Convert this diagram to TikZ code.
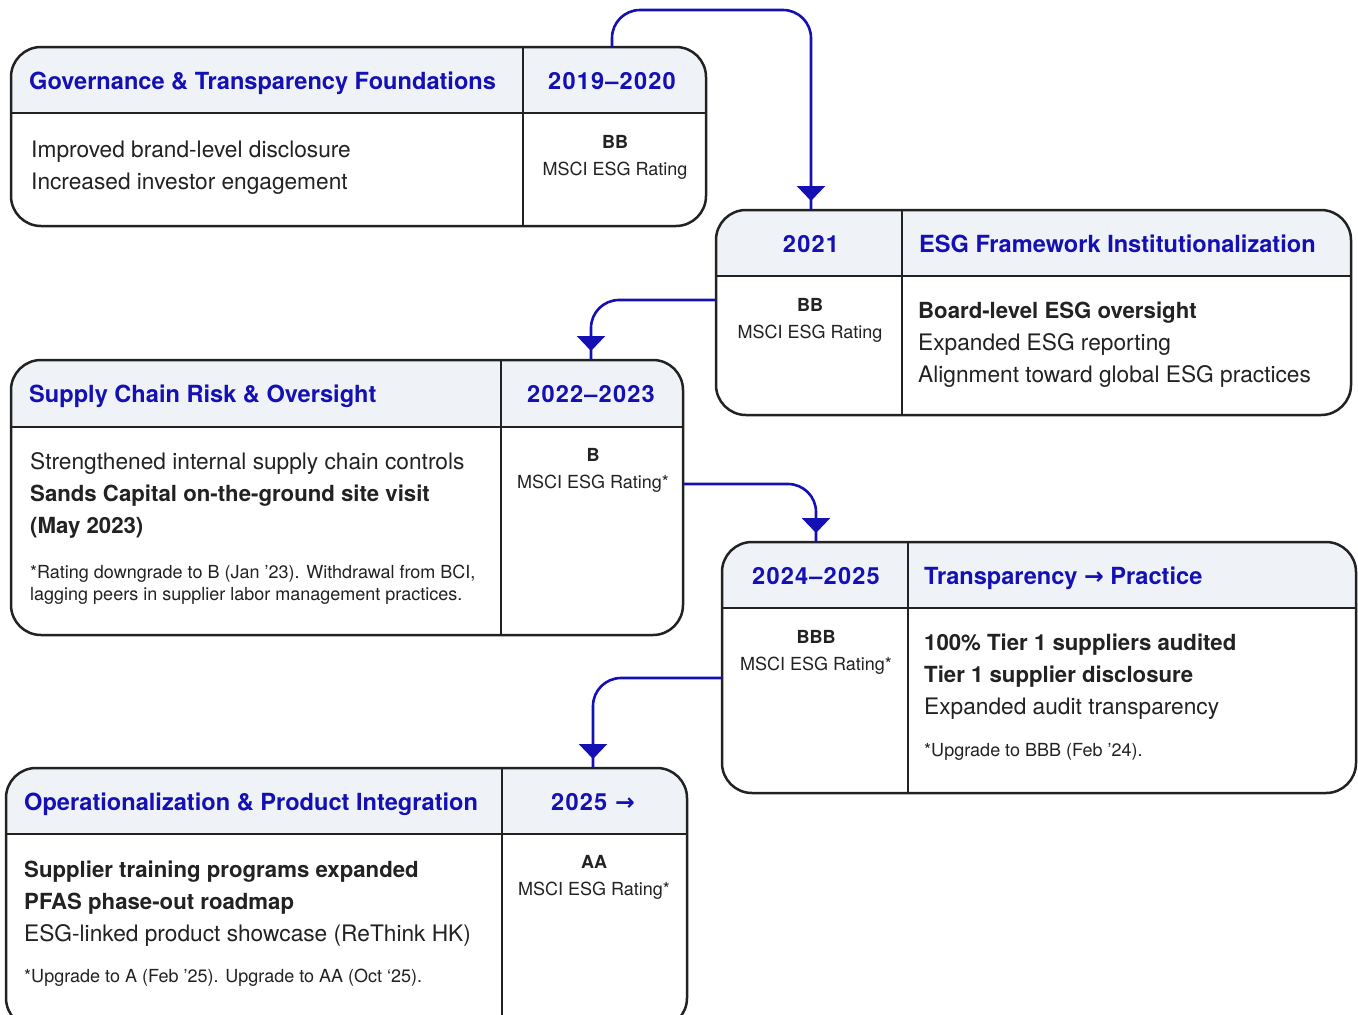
\documentclass[tikz,border=0pt]{standalone}
\usepackage{fontspec}
\setmainfont{TeX Gyre Heros}
\newfontfamily\arrowfont{DejaVu Sans}
\usetikzlibrary{arrows.meta,decorations.markings}

\definecolor{ink}{HTML}{222222}
\definecolor{accent}{HTML}{1410B4}
\definecolor{hdr}{HTML}{EFF3F7}

\tikzset{
  cardbase/.style={fill=white, rounded corners=30pt, inner sep=0pt, outer sep=0pt},
  frame/.style={draw=ink, line width=2.5pt},
  title/.style={anchor=base west, inner sep=0pt, text=accent, font=\fontsize{23.6}{28}\selectfont\bfseries},
  yearlbl/.style={anchor=base, inner sep=0pt, text=accent, font=\fontsize{23.6}{28}\selectfont\bfseries\addfontfeatures{LetterSpace=5}},
  body/.style={anchor=base west, inner sep=0pt, text=ink, font=\fontsize{22.7}{26}\selectfont},
  bodyb/.style={body, font=\fontsize{22.2}{26}\selectfont\bfseries},
  note/.style={anchor=base west, inner sep=0pt, text=ink, font=\fontsize{18}{21}\selectfont},
  grade/.style={anchor=base, inner sep=0pt, text=ink, font=\fontsize{18}{22}\selectfont\bfseries},
  agency/.style={anchor=base, inner sep=0pt, text=ink, font=\fontsize{18}{22}\selectfont},
  conn/.style={draw=accent, line width=2.6pt, rounded corners=28pt,
    postaction=decorate,
    decoration={markings, mark=at position -9pt with {\arrow[accent]{Triangle[width=28pt,length=15pt]}}}},
}

% card: name, left, top, right, bottom, header rule y, column rule x
\newcommand\milestonecard[7]{%
  \node[cardbase, minimum width={#4-#2}, minimum height={#5-#3}, anchor=north west] (#1) at (#2,#3) {};
  \begin{scope}
    \clip[rounded corners=30pt] (#1.north west) rectangle (#1.south east);
    \fill[hdr] (#1.north west) rectangle (#1.east |- 0,#6);
  \end{scope}
  \draw[frame] (#1.west |- 0,#6) -- (#1.east |- 0,#6);
  \draw[frame] (#7,0 |- #1.north) -- (#7,0 |- #1.south);
  \draw[frame, rounded corners=30pt] (#1.north west) rectangle (#1.south east);
}

\begin{document}
\begin{tikzpicture}[x=1pt, y=-1pt]
\path[use as bounding box, clip] (0,0) rectangle (1358,1015);

% cards
\milestonecard{g1}{11}{47}{706}{226}{113}{523}
\milestonecard{g2}{716}{210}{1351}{415}{276}{902}
\milestonecard{g3}{11}{360}{683}{635}{427}{501}
\milestonecard{g4}{722}{542}{1356}{793}{608}{908}
\milestonecard{g5}{6}{768}{687}{1028}{834}{502}

% 2019-2020
\node[title] (t1) at (29,89) {Governance \& Transparency Foundations};
\node[yearlbl] (y1) at (612,89) {2019--2020};
\node[grade] (r1) at (615,148) {BB};
\node[agency] (a1) at (615,175) {MSCI ESG Rating};
\node[body] (b1a) at (31,157) {Improved brand-level disclosure};
\node[body] (b1b) at (31,189) {Increased investor engagement};

% 2021
\node[yearlbl] (y2) at (811,252) {2021};
\node[title] (t2) at (919,252) {ESG Framework Institutionalization};
\node[grade] (r2) at (810,311) {BB};
\node[agency] (a2) at (810,338) {MSCI ESG Rating};
\node[bodyb] (b2a) at (918,318) {Board-level ESG oversight};
\node[body] (b2b) at (918,350) {Expanded ESG reporting};
\node[body] (b2c) at (918,382) {Alignment toward global ESG practices};

% 2022-2023
\node[title] (t3) at (29,402) {Supply Chain Risk \& Oversight};
\node[yearlbl] (y3) at (591,402) {2022--2023};
\node[grade] (r3) at (593,461) {B};
\node[agency] (a3) at (593,488) {MSCI ESG Rating*};
\node[body] (b3a) at (30,469) {Strengthened internal supply chain controls};
\node[bodyb] (b3b) at (30,501) {Sands Capital on-the-ground site visit};
\node[bodyb] (b3c) at (30,533) {(May 2023)};
\node[note] (n3a) at (30,578) {*Rating downgrade to B (Jan '23). Withdrawal from BCI,};
\node[note] (n3b) at (30,600) {lagging peers in supplier labor management practices.};

% 2024-2025
\node[yearlbl] (y4) at (816,584) {2024--2025};
\node[title] (t4) at (924,584) {Transparency {\arrowfont\bfseries →} Practice};
\node[grade] (r4) at (816,643) {BBB};
\node[agency] (a4) at (816,670) {MSCI ESG Rating*};
\node[bodyb] (b4a) at (924,650) {100\% Tier 1 suppliers audited};
\node[bodyb] (b4b) at (924,682) {Tier 1 supplier disclosure};
\node[body] (b4c) at (924,714) {Expanded audit transparency};
\node[note] (n4) at (924,756) {*Upgrade to BBB (Feb '24).};

% 2025 onward
\node[title] (t5) at (24,810) {Operationalization \& Product Integration};
\node[yearlbl] (y5) at (593,810) {2025 {\arrowfont\bfseries →}};
\node[grade] (r5) at (594,868) {AA};
\node[agency] (a5) at (594,895) {MSCI ESG Rating*};
\node[bodyb] (b5a) at (24,877) {Supplier training programs expanded};
\node[bodyb] (b5b) at (24,909) {PFAS phase-out roadmap};
\node[body] (b5c) at (24,941) {ESG-linked product showcase (ReThink HK)};
\node[note] (n5) at (24,982) {*Upgrade to A (Feb '25). Upgrade to AA (Oct `25).};

% connectors between consecutive milestones
\draw[conn] (y1 |- g1.north) -- (y1 |- 0,10) -- (y2 |- 0,10) -- (y2 |- g2.north);
\draw[conn] (g2.west |- 0,300) -| (y3 |- g3.north);
\draw[conn] (g3.east |- 0,484) -| (y4 |- g4.north);
\draw[conn] (g4.west |- 0,678) -| (y5 |- g5.north);
\end{tikzpicture}
\end{document}
